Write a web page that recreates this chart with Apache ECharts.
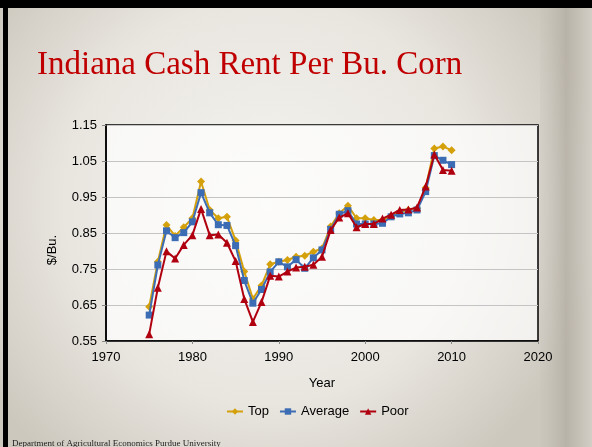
<!DOCTYPE html>
<html>
<head>
<meta charset="utf-8">
<script src="https://cdn.jsdelivr.net/npm/echarts@6/dist/echarts.min.js"></script>
<style>
html,body{margin:0;padding:0;background:#e6e3dd;}
#chart{width:592px;height:447px;}
</style>
</head>
<body>
<div id="chart"></div>
<script>
const years = [1975,1976,1977,1978,1979,1980,1981,1982,1983,1984,1985,1986,1987,1988,1989,1990,1991,1992,1993,1994,1995,1996,1997,1998,1999,2000,2001,2002,2003,2004,2005,2006,2007,2008,2009,2010];
const topValues = [0.645,0.770,0.872,0.842,0.866,0.891,0.993,0.914,0.891,0.895,0.829,0.743,0.667,0.704,0.763,0.770,0.775,0.784,0.787,0.798,0.807,0.868,0.905,0.926,0.891,0.891,0.886,0.886,0.897,0.909,0.914,0.918,0.976,1.085,1.090,1.080];
const averageValues = [0.622,0.761,0.856,0.837,0.851,0.881,0.962,0.906,0.873,0.871,0.815,0.718,0.655,0.693,0.742,0.770,0.756,0.776,0.752,0.781,0.803,0.860,0.902,0.912,0.875,0.875,0.875,0.877,0.895,0.903,0.906,0.914,0.965,1.065,1.052,1.040];
const poorValues = [0.569,0.698,0.799,0.779,0.817,0.844,0.917,0.844,0.846,0.823,0.772,0.667,0.603,0.658,0.731,0.729,0.743,0.754,0.756,0.762,0.784,0.858,0.893,0.905,0.866,0.875,0.875,0.890,0.901,0.914,0.915,0.921,0.979,1.068,1.025,1.023];
const seriesNames = ['Top','Average','Poor'];
const xTicks = [1970,1980,1990,2000,2010,2020];
const yTicks = [0.55,0.65,0.75,0.85,0.95,1.05,1.15];

const pair = vals => years.map((y,i)=>[y, vals[i]]);
const chart = echarts.init(document.getElementById('chart'), null, {renderer:'canvas'});
const sans = 'Liberation Sans, Arial, sans-serif';
const option = {
  animation:false,
  backgroundColor:{type:'radial',x:0.45,y:0.45,r:0.75,colorStops:[{offset:0,color:'#f4f3ef'},{offset:0.6,color:'#e9e6e0'},{offset:1,color:'#cdc8be'}]},
  title:{text:'Indiana Cash Rent Per Bu. Corn',left:32,top:44,textStyle:{fontFamily:'Liberation Serif, Times New Roman, serif',fontSize:33,fontWeight:'normal',color:'#c00000'}},
  graphic:[
    {type:'rect',left:540,top:0,shape:{width:52,height:447},style:{fill:{type:'linear',x:0,y:0,x2:1,y2:0,colorStops:[{offset:0,color:'rgba(200,195,186,0.3)'},{offset:0.5,color:'rgba(170,164,154,0.6)'},{offset:1,color:'rgba(215,210,202,0.6)'}]}},silent:true,z:-10},
    {type:'rect',left:0,top:0,shape:{width:592,height:8},style:{fill:'#000'},silent:true},
    {type:'rect',left:3,top:0,shape:{width:5,height:447},style:{fill:'#000'},silent:true},
    {type:'text',x:52,y:250,rotation:Math.PI/2,style:{text:'$/Bu.',font:'13px '+sans,fill:'#000',textAlign:'center',textVerticalAlign:'middle'}},
    {type:'text',x:12,y:448,style:{text:'Department of Agricultural Economics Purdue University',font:'9px Liberation Serif, serif',fill:'#222',textAlign:'left',textVerticalAlign:'bottom'}}
  ],
  grid:{left:106,right:54,top:125,bottom:106,show:true,borderColor:'#000',borderWidth:1.5,backgroundColor:'rgba(255,255,255,0.7)'},
  legend:{left:221,top:400,itemWidth:16,itemHeight:8,itemGap:10,textStyle:{fontFamily:sans,fontSize:13,color:'#000'},data:seriesNames},
  xAxis:{type:'value',min:xTicks[0],max:xTicks[xTicks.length-1],interval:10,
    name:'Year',nameLocation:'middle',nameGap:36,nameTextStyle:{fontFamily:sans,fontSize:13,color:'#000'},
    axisLine:{show:true,lineStyle:{color:'#000',width:1.5}},axisTick:{show:true,length:3,lineStyle:{color:'#888'}},
    axisLabel:{fontFamily:sans,fontSize:13,color:'#000',margin:10,formatter:v=>String(v)},splitLine:{show:false}},
  yAxis:{type:'value',min:yTicks[0],max:yTicks[yTicks.length-1],interval:0.1,
    axisLine:{show:true,lineStyle:{color:'#000',width:1.5}},axisTick:{show:true,length:4,lineStyle:{color:'#888'}},
    axisLabel:{fontFamily:sans,fontSize:13,color:'#000',margin:9,formatter:v=>v.toFixed(2)},
    splitLine:{show:true,lineStyle:{color:'#c4c4c4',width:1}}},
  series:[
    {name:'Top',type:'line',data:pair(topValues),symbol:'diamond',symbolSize:8,color:'#d4a00c',lineStyle:{width:2,color:'#d4a00c'},itemStyle:{color:'#d4a00c'},z:2},
    {name:'Average',type:'line',data:pair(averageValues),symbol:'rect',symbolSize:7,color:'#3c6db4',lineStyle:{width:2,color:'#3c6db4'},itemStyle:{color:'#3c6db4'},z:3},
    {name:'Poor',type:'line',data:pair(poorValues),symbol:'triangle',symbolSize:8,color:'#b00010',lineStyle:{width:2,color:'#b00010'},itemStyle:{color:'#b00010'},z:4}
  ]
};
chart.setOption(option);
</script>
</body>
</html>
